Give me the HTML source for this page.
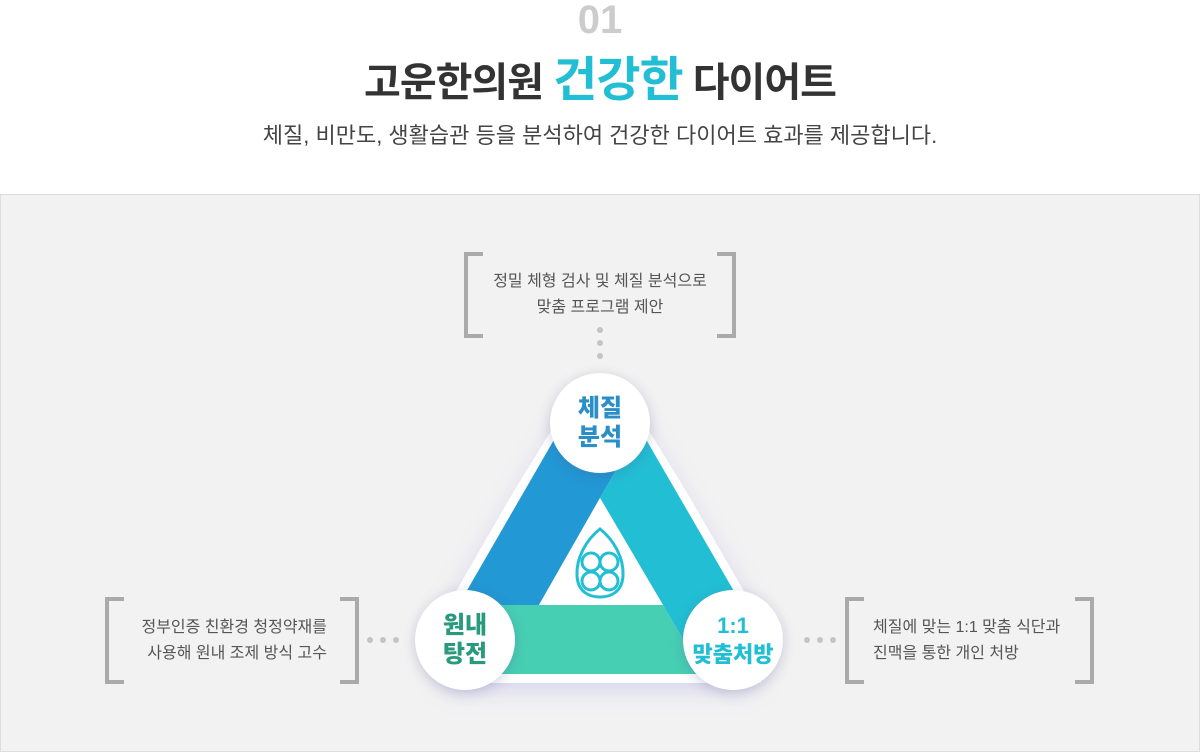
<!DOCTYPE html>
<html><head><meta charset="utf-8"><style>
body{margin:0;width:1200px;height:751px;background:#fff;font-family:"Liberation Sans","Noto Sans CJK KR",sans-serif;position:relative;overflow:hidden}
.abs{position:absolute}
.num{left:0;width:1200px;top:-4px;text-align:center;font-size:40px;font-weight:bold;color:#ccc;line-height:48px}
.title{left:0;width:1200px;top:52px;text-align:center;font-size:40px;font-weight:bold;color:#333;line-height:58px;letter-spacing:-1px}
.title span{color:#22bfd4;font-size:48px}
.sub{left:0;width:1200px;top:121px;text-align:center;font-size:22px;color:#444;line-height:30px}
.panel{left:0;top:194px;width:1198px;height:556px;border:1px solid #ddd;background:#f2f2f2}
.br{position:absolute;width:15px;border:4px solid #aaa}
.bl{border-right:none}.brr{border-left:none}
.txt{position:absolute;font-size:16px;color:#555;line-height:26px}
.dot{position:absolute;width:6px;height:6px;border-radius:50%;background:#c4c4c4}
.circ{position:absolute;width:100px;height:100px;border-radius:50%;background:#fff;box-shadow:0 3px 12px rgba(80,80,140,.25);display:flex;align-items:center;justify-content:center;text-align:center;font-weight:900;font-size:24px;line-height:29px}
</style></head><body>
<div class="abs num">01</div>
<div class="abs title">고운한의원 <span>건강한</span> 다이어트</div>
<div class="abs sub">체질, 비만도, 생활습관 등을 분석하여 건강한 다이어트 효과를 제공합니다.</div>
<div class="abs panel"></div>

<div class="br bl" style="left:464px;top:252px;height:78px"></div>
<div class="br brr" style="left:717px;top:252px;height:78px"></div>
<div class="txt" style="left:470px;width:260px;top:269px;text-align:center">정밀 체형 검사 및 체질 분석으로<br>맞춤 프로그램 제안</div>
<div class="dot" style="left:597px;top:327px"></div>
<div class="dot" style="left:597px;top:340px"></div>
<div class="dot" style="left:597px;top:353px"></div>

<div class="br bl" style="left:105px;top:597px;height:79px"></div>
<div class="br brr" style="left:340px;top:597px;height:79px"></div>
<div class="txt" style="left:110px;width:217px;top:615px;text-align:right">정부인증 친환경 청정약재를<br>사용해 원내 조제 방식 고수</div>
<div class="dot" style="left:367px;top:637px"></div>
<div class="dot" style="left:380px;top:637px"></div>
<div class="dot" style="left:393px;top:637px"></div>

<div class="br bl" style="left:845px;top:597px;height:79px"></div>
<div class="br brr" style="left:1075px;top:597px;height:79px"></div>
<div class="txt" style="left:873px;width:220px;top:615px">체질에 맞는 1:1 맞춤 식단과<br>진맥을 통한 개인 처방</div>
<div class="dot" style="left:804px;top:637px"></div>
<div class="dot" style="left:817px;top:637px"></div>
<div class="dot" style="left:830px;top:637px"></div>

<svg class="abs" style="left:0;top:0" width="1200" height="751">
<defs><filter id="g" x="-30%" y="-30%" width="160%" height="160%"><feGaussianBlur stdDeviation="14"/></filter>
<clipPath id="c"><polygon points="570,400 630,400 765,619 760,700 440,700 435,619"/></clipPath></defs>
<polygon points="580,400 620,400 760,630 755,686 445,686 440,630" fill="#8f86e0" opacity=".35" filter="url(#g)"/>
<g clip-path="url(#c)">
<polygon points="600,342 403,683 797,683" fill="#fff"/>
<polygon points="600,360 458.6,605 539,605 600,498 640,429" fill="#2298d4"/>
<polygon points="640,429 600,498 663,605 703,674 782,674 600,360" fill="#22bfd4"/>
<polygon points="418.5,674 458.6,605 663,605 703,674" fill="#47cfb3"/>
</g>
<polygon points="600,498 539,605 663,605" fill="#fff"/>
<g fill="none" stroke="#22bfd4" stroke-width="3">
<path d="M600,529 C586,540 576,558 577,576 C578,591 588,597 600,597 C612,597 622,591 623,576 C624,558 614,540 600,529Z"/>
<circle cx="591" cy="562" r="9"/><circle cx="609" cy="562" r="9"/>
<circle cx="591" cy="581" r="9"/><circle cx="609" cy="581" r="9"/>
</g>
</svg>

<div class="circ" style="left:550px;top:373px;color:#2a8fc8">체질<br>분석</div>
<div class="circ" style="left:415px;top:590px;color:#2a9a7f">원내<br>탕전</div>
<div class="circ" style="left:683px;top:590px;color:#22bfd4;font-size:22px">1:1<br>맞춤처방</div>
</body></html>
